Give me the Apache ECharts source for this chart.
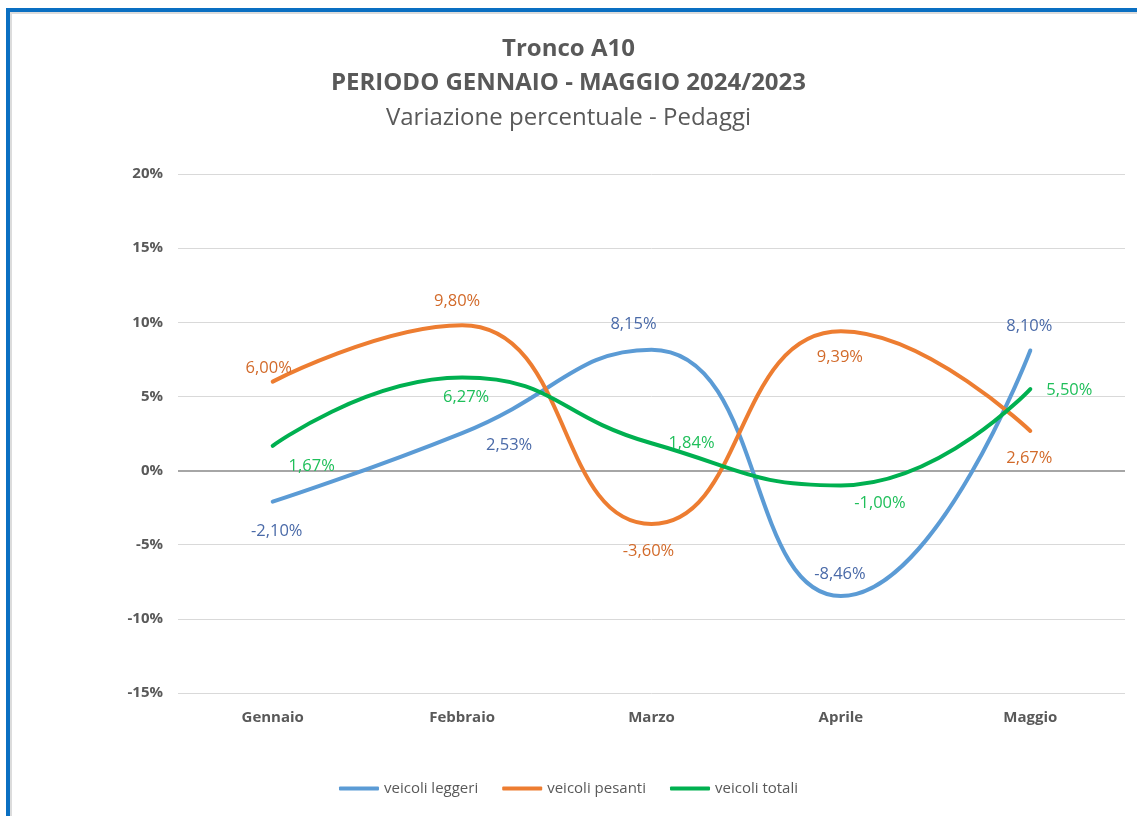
<!DOCTYPE html>
<html>
<head>
<meta charset="utf-8">
<script src="https://cdn.jsdelivr.net/npm/echarts@6/dist/echarts.min.js"></script>
<style>
  html, body { margin: 0; padding: 0; background: #fff; overflow: hidden; }
  #chart { width: 1137px; height: 816px; }
  #frame {
    position: absolute; left: 6px; top: 8px; width: 2000px; height: 2000px;
    border-left: 4px solid #0a6fc2; border-top: 4px solid #0a6fc2;
    box-shadow: inset 2px 2px 0 #dcdcdc;
    pointer-events: none;
  }
</style>
</head>
<body>
<div id="chart"></div>
<div id="frame"></div>
<script>
var months = ['Gennaio', 'Febbraio', 'Marzo', 'Aprile', 'Maggio'];
var leggeri = [-2.10, 2.53, 8.15, -8.46, 8.10];
var pesanti = [6.00, 9.80, -3.60, 9.39, 2.67];
var totali = [1.67, 6.27, 1.84, -1.00, 5.50];

// where each data label sits, relative to its point (px)
var offLeggeri = [[4, 30], [47, 12], [-18, -25], [-1, -22], [-1, -24]];
var offPesanti = [[-4, -13], [-5, -24], [-3, 27], [-1, 26], [-1, 27]];
var offTotali = [[39, 20], [4, 20], [40, 0], [39, 18], [39, 1]];

var FONT = '"Open Sans", Lato, sans-serif';

function fmt(v) {
  return v.toFixed(2).replace('.', ',') + '%';
}

function points(values, offsets) {
  return values.map(function (v, i) {
    return { value: v, label: { offset: offsets[i] } };
  });
}

function lineSeries(name, color, labelColor, values, offsets) {
  return {
    name: name,
    type: 'line',
    smooth: 0.5,
    smoothConstraint: false,
    symbol: 'circle',
    symbolSize: 0.1,
    itemStyle: { color: color },
    lineStyle: { width: 4, color: color, cap: 'round' },
    label: {
      show: true,
      position: 'inside',
      color: labelColor,
      fontFamily: FONT,
      fontSize: 16.5,
      formatter: function (p) { return fmt(p.value); }
    },
    data: points(values, offsets),
    z: 3
  };
}

var option = {
  backgroundColor: '#fff',
  animation: false,
  title: [
    { text: 'Tronco A10', left: 'center', top: 32,
      textStyle: { fontFamily: FONT, fontSize: 24, fontWeight: 'bold', color: '#595959' } },
    { text: 'PERIODO GENNAIO - MAGGIO 2024/2023', left: 'center', top: 66,
      textStyle: { fontFamily: FONT, fontSize: 24, fontWeight: 'bold', color: '#595959' } },
    { text: 'Variazione percentuale - Pedaggi', left: 'center', top: 101,
      textStyle: { fontFamily: FONT, fontSize: 24, fontWeight: 'normal', color: '#595959' } }
  ],
  legend: {
    bottom: 15,
    left: 'center',
    icon: 'roundRect',
    itemWidth: 40,
    itemHeight: 4,
    itemGap: 24,
    textStyle: { fontFamily: FONT, fontSize: 15, color: '#595959' },
    data: ['veicoli leggeri', 'veicoli pesanti', 'veicoli totali']
  },
  grid: { left: 178, right: 12, top: 174, bottom: 123 },
  xAxis: {
    type: 'category',
    data: months,
    boundaryGap: true,
    axisLine: { show: false },
    axisTick: { show: false },
    axisLabel: { margin: 17, fontFamily: FONT, fontSize: 15, fontWeight: 'bold', color: '#595959' }
  },
  yAxis: {
    type: 'value',
    min: -15,
    max: 20,
    interval: 5,
    axisLine: { show: false },
    axisTick: { show: false },
    axisLabel: { margin: 15, formatter: '{value}%', fontFamily: FONT, fontSize: 15, fontWeight: 'bold', color: '#595959' },
    splitLine: { lineStyle: { color: '#d9d9d9', width: 1 } }
  },
  series: [
    lineSeries('veicoli leggeri', '#5b9bd5', '#4a6aa8', leggeri, offLeggeri),
    lineSeries('veicoli pesanti', '#ed7d31', '#d26a2a', pesanti, offPesanti),
    lineSeries('veicoli totali', '#00b050', '#1fbf5a', totali, offTotali)
  ]
};

// darker zero line
option.series[0].markLine = {
  silent: true,
  symbol: 'none',
  label: { show: false },
  lineStyle: { color: '#a6a6a6', width: 2, type: 'solid' },
  data: [{ yAxis: 0 }],
  z: 1
};

var chart = echarts.init(document.getElementById('chart'));
chart.setOption(option);
</script>
</body>
</html>
